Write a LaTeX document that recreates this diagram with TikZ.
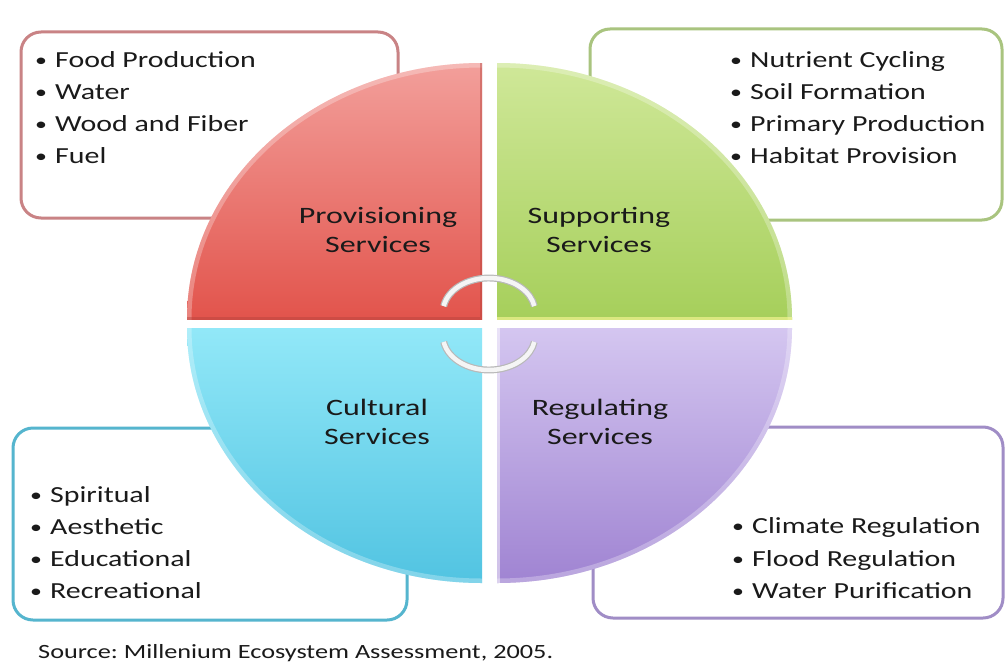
\documentclass[tikz,border=0pt]{standalone}
\usepackage{fontspec}
\setmainfont[FakeStretch=1.3]{Carlito}
\newfontfamily\labelfont[FakeStretch=1.36]{Carlito}
\frenchspacing
\definecolor{txt}{HTML}{1A1A1A}
\definecolor{redB}{HTML}{C98385}
\definecolor{greenB}{HTML}{A9C47F}
\definecolor{cyanB}{HTML}{55B5CE}
\definecolor{purpB}{HTML}{A08DC6}
\definecolor{redT}{HTML}{F4A6A2}
\definecolor{redD}{HTML}{E2544C}
\definecolor{grnT}{HTML}{D3EA9E}
\definecolor{grnD}{HTML}{A6CF5B}
\definecolor{cyaT}{HTML}{92E8F8}
\definecolor{cyaD}{HTML}{4DC1E0}
\definecolor{purT}{HTML}{D4C6F0}
\definecolor{purD}{HTML}{9C7FD0}
\newcommand\itembullet{\makebox[20pt][l]{\raisebox{1pt}{\scalebox{0.8}{•}}}}
\tikzset{
  listbox/.style={rounded corners=20pt, line width=3pt, fill=white},
  item/.style={anchor=base west, inner sep=0pt, text=txt, font=\fontsize{23}{28}\selectfont},
  qlabel/.style={align=center, inner sep=0pt, text=txt, font=\labelfont\fontsize{23.5}{29.5}\selectfont},
  rim/.style={draw=white, opacity=0.28, line width=9pt},
  cyc/.style={draw=gray!55, line width=1.2pt, double=white!92!gray, double distance=4.5pt}
}
\begin{document}
\begin{tikzpicture}[x=1pt,y=-1pt]
\useasboundingbox (0,0) rectangle (1008,669);
\fill[white] (0,0) rectangle (1008,669);
% list boxes
\draw[listbox, draw=redB] (21,32) rectangle (398,218);
\draw[listbox, draw=greenB] (590,29) rectangle (1002,220);
\draw[listbox, draw=cyanB] (13,428) rectangle (407,620);
\draw[listbox, draw=purpB] (593,427) rectangle (1003,618);
% quadrants
\begin{scope}
  \clip (482,319) ellipse [x radius=295, y radius=256];
  \clip (150,40) rectangle (482,319);
  \shade[top color=redT, bottom color=redD] (150,40) rectangle (482,319);
  \draw[rim] (482,319) ellipse [x radius=295, y radius=256];
  \draw[redD!80!black, opacity=0.45, line width=4pt] (150,319) -- (482,319) -- (482,40);
\end{scope}
\begin{scope}
  \clip (497,319) ellipse [x radius=295, y radius=256];
  \clip (497,40) rectangle (830,319);
  \shade[top color=grnT, bottom color=grnD] (497,40) rectangle (830,319);
  \draw[rim] (497,319) ellipse [x radius=295, y radius=256];
  \draw[white!60!yellow, opacity=0.6, line width=5pt] (497,319) -- (830,319);
\end{scope}
\begin{scope}
  \clip (482,328) ellipse [x radius=295, y radius=255];
  \clip (150,328) rectangle (482,600);
  \shade[top color=cyaT, bottom color=cyaD] (150,328) rectangle (482,600);
  \draw[rim] (482,328) ellipse [x radius=295, y radius=255];
\end{scope}
\begin{scope}
  \clip (497,328) ellipse [x radius=295, y radius=255];
  \clip (497,328) rectangle (830,600);
  \shade[top color=purT, bottom color=purD] (497,328) rectangle (830,600);
  \draw[rim] (497,328) ellipse [x radius=295, y radius=255];
  \draw[white, opacity=0.5, line width=5pt] (497,328) -- (497,600);
\end{scope}
% cycle arcs
\draw[cyc] (489,312) ++(190:46 and 34) arc[start angle=190, end angle=350, x radius=46, y radius=34];
\draw[cyc] (489,336) ++(170:46 and 34) arc[start angle=170, end angle=10, x radius=46, y radius=34];
% quadrant labels
\node[qlabel] (prov) at (378,230) {Provisioning\\Services};
\node[qlabel] (supp) at (599,230) {Supporting\\Services};
\node[qlabel] (cult) at (377,422) {Cultural\\Services};
\node[qlabel] (regu) at (600,422) {Regulating\\Services};
% lists
\node[item] (p1) at (35,67.5) {\itembullet Food Production};
\node[item] (p2) at (35,99.5) {\itembullet Water};
\node[item] (p3) at (35,131.5) {\itembullet Wood and Fiber};
\node[item] (p4) at (35,163.5) {\itembullet Fuel};
\node[item] (s1) at (730,67.5) {\itembullet Nutrient Cycling};
\node[item] (s2) at (730,99.5) {\itembullet Soil Formation};
\node[item] (s3) at (730,131.5) {\itembullet Primary Production};
\node[item] (s4) at (730,163.5) {\itembullet Habitat Provision};
\node[item] (c1) at (30,502.5) {\itembullet Spiritual};
\node[item] (c2) at (30,534.5) {\itembullet Aesthetic};
\node[item] (c3) at (30,566.5) {\itembullet Educational};
\node[item] (c4) at (30,598.5) {\itembullet Recreational};
\node[item] (r1) at (732,533) {\itembullet Climate Regulation};
\node[item] (r2) at (732,566) {\itembullet Flood Regulation};
\node[item] (r3) at (732,598.5) {\itembullet Water Purification};
% source
\node[item, font=\fontsize{20.2}{24}\selectfont] (src) at (38,658) {Source: Millenium Ecosystem Assessment, 2005.};
\end{tikzpicture}
\end{document}
